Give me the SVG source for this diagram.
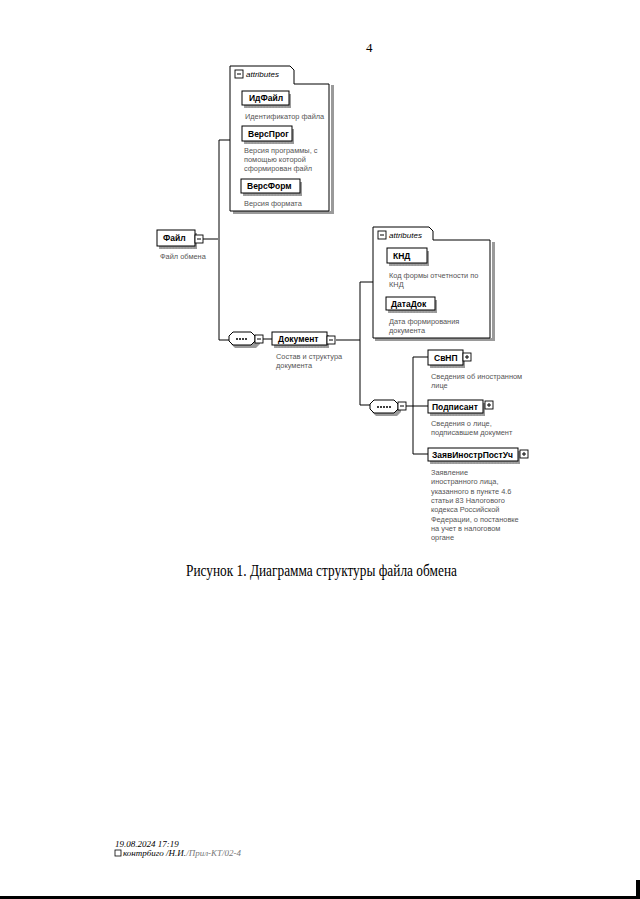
<svg xmlns="http://www.w3.org/2000/svg" width="640" height="899" viewBox="0 0 640 899">
<defs>
<style>
.bg{fill:#ffffff}
.box{fill:#fff;stroke:#000;stroke-width:1}
.sh{fill:#9a9a9a}
.lbl{font-family:"Liberation Sans",Arial,sans-serif;font-size:8.5px;font-weight:bold;fill:#000}
.dsc{font-family:"Liberation Sans",Arial,sans-serif;font-size:7.4px;fill:#555}
.att{font-family:"Liberation Sans",Arial,sans-serif;font-size:8px;font-style:italic;fill:#000}
.ln{fill:none;stroke:#000;stroke-width:1}
.ic{fill:#fff;stroke:#000;stroke-width:0.9}
.dots{stroke:#aaa;stroke-width:1;stroke-dasharray:1.5 1.5}
.cap{font-family:"Liberation Serif","Times New Roman",serif;fill:#000}
</style>
</defs>
<rect class="bg" x="0" y="0" width="640" height="899"/>
<text class="cap" x="366" y="52" font-size="13">4</text>

<g id="connectors">
<path class="ln" d="M203,239 H218 M219,140 V340 M219,140 H230 M219,340 H229"/>
<path class="ln" d="M263,339 H272 M336,340 H360 M360,282 V405 M360,282 H373 M360,405 H370"/>
<path class="ln" d="M406,406 H428 M413,357 V454 M413,357 H428 M413,454 H428"/>
</g>

<g id="attributes1">
<path class="sh" d="M331,85 h3 v129 h-101 v-3 h98 z"/>
<path class="box" d="M230,211 V66 H290 L294,70 V84 H329 V211 Z"/>
<rect class="ic" x="235" y="70" width="8" height="8"/>
<path class="ln" d="M237,74 H241"/>
<text class="att" x="246" y="77">attributes</text>
</g>

<g id="idfile">
<rect class="sh" x="244" y="94" width="47" height="14"/>
<rect class="box" x="242" y="91" width="47" height="14"/>
<line class="dots" x1="244" y1="107" x2="289" y2="107"/>
<text class="lbl" x="249" y="101">ИдФайл</text>
<text class="dsc" x="245" y="119">Идентификатор файла</text>
</g>

<g id="versprog">
<rect class="sh" x="244" y="129" width="50" height="15"/>
<rect class="box" x="242" y="126" width="50" height="15"/>
<line class="dots" x1="244" y1="143" x2="292" y2="143"/>
<text class="lbl" x="248" y="137">ВерсПрог</text>
<text class="dsc" x="244" y="153">Версия программы, с</text>
<text class="dsc" x="244" y="162">помощью которой</text>
<text class="dsc" x="244" y="171">сформирован файл</text>
</g>

<g id="versform">
<rect class="sh" x="243" y="182" width="59" height="14"/>
<rect class="box" x="241" y="179" width="59" height="14"/>
<line class="dots" x1="243" y1="195" x2="300" y2="195"/>
<text class="lbl" x="247" y="189">ВерсФорм</text>
<text class="dsc" x="244" y="206">Версия формата</text>
</g>

<g id="file">
<rect class="sh" x="159" y="233" width="38" height="16"/>
<rect class="box" x="157" y="230" width="38" height="16"/>
<line class="dots" x1="159" y1="248" x2="195" y2="248"/>
<text class="lbl" x="163" y="241">Файл</text>
<rect class="ic" x="195" y="235" width="8" height="8"/>
<path class="ln" d="M197,239 H201"/>
<text class="dsc" x="160" y="259">Файл обмена</text>
</g>

<g id="seq1">
<path class="sh" d="M235,335 H256 L260,339 V344 L256,348 H235 L231,344 V339 Z"/>
<path class="box" d="M233,332 H251 L255,336 V341 L251,345 H233 L229,341 V336 Z"/>
<path d="M236,339 H248" stroke="#000" stroke-width="1.6" stroke-dasharray="2 1"/>
<rect class="ic" x="255" y="335" width="8" height="8"/>
<path class="ln" d="M257,339 H261"/>
</g>

<g id="document">
<rect class="sh" x="274" y="335" width="55" height="13"/>
<rect class="box" x="272" y="332" width="55" height="13"/>
<line class="dots" x1="274" y1="347" x2="327" y2="347"/>
<text class="lbl" x="278" y="342">Документ</text>
<rect class="ic" x="327" y="336" width="8" height="8"/>
<path class="ln" d="M329,340 H333"/>
<text class="dsc" x="276" y="359">Состав и структура</text>
<text class="dsc" x="276" y="368">документа</text>
</g>

<g id="attributes2">
<path class="sh" d="M492,242 h3 v99 h-120 v-3 h117 z"/>
<path class="box" d="M373,338 V227 H429 L433,231 V240 H490 V338 Z"/>
<rect class="ic" x="378" y="231" width="8" height="8"/>
<path class="ln" d="M380,235 H384"/>
<text class="att" x="389" y="238">attributes</text>
</g>

<g id="knd">
<rect class="sh" x="389" y="251" width="40" height="15"/>
<rect class="box" x="387" y="248" width="40" height="15"/>
<line class="dots" x1="389" y1="265" x2="427" y2="265"/>
<text class="lbl" x="393" y="259">КНД</text>
<text class="dsc" x="389" y="278">Код формы отчетности по</text>
<text class="dsc" x="389" y="287">КНД</text>
</g>

<g id="datadok">
<rect class="sh" x="388" y="300" width="49" height="13"/>
<rect class="box" x="386" y="297" width="49" height="13"/>
<line class="dots" x1="388" y1="312" x2="435" y2="312"/>
<text class="lbl" x="391" y="307">ДатаДок</text>
<text class="dsc" x="389" y="324">Дата формирования</text>
<text class="dsc" x="389" y="333">документа</text>
</g>

<g id="seq2">
<path class="sh" d="M376,403 H397 L401,407 V412 L397,416 H376 L372,412 V407 Z"/>
<path class="box" d="M374,400 H394 L398,404 V409 L394,413 H374 L370,409 V404 Z"/>
<path d="M377,407 H391" stroke="#000" stroke-width="1.6" stroke-dasharray="2 1"/>
<rect class="ic" x="398" y="402" width="8" height="8"/>
<path class="ln" d="M400,406 H404"/>
</g>

<g id="svnp">
<rect class="sh" x="430" y="353" width="35" height="15"/>
<rect class="box" x="428" y="350" width="35" height="15"/>
<line class="dots" x1="430" y1="367" x2="463" y2="367"/>
<text class="lbl" x="434" y="361">СвНП</text>
<rect class="ic" x="463" y="353" width="8" height="8"/>
<path class="ln" d="M465,357 H469 M467,355 V359"/>
<text class="dsc" x="431" y="379">Сведения об иностранном</text>
<text class="dsc" x="431" y="388">лице</text>
</g>

<g id="podpisant">
<rect class="sh" x="430" y="403" width="55" height="13"/>
<rect class="box" x="428" y="400" width="55" height="13"/>
<line class="dots" x1="430" y1="415" x2="483" y2="415"/>
<text class="lbl" x="432" y="410">Подписант</text>
<rect class="ic" x="485" y="401" width="8" height="8"/>
<path class="ln" d="M487,405 H491 M489,403 V407"/>
<text class="dsc" x="431" y="426">Сведения о лице,</text>
<text class="dsc" x="431" y="435">подписавшем документ</text>
</g>

<g id="zayav">
<rect class="sh" x="430" y="451" width="90" height="13"/>
<rect class="box" x="428" y="448" width="90" height="13"/>
<line class="dots" x1="430" y1="463" x2="518" y2="463"/>
<text class="lbl" x="432" y="458">ЗаявИнострПостУч</text>
<rect class="ic" x="520" y="450" width="8" height="8"/>
<path class="ln" d="M522,454 H526 M524,452 V456"/>
<text class="dsc" x="431" y="475">Заявление</text>
<text class="dsc" x="431" y="484">иностранного лица,</text>
<text class="dsc" x="431" y="494">указанного в пункте 4.6</text>
<text class="dsc" x="431" y="503">статьи 83 Налогового</text>
<text class="dsc" x="431" y="512">кодекса Российской</text>
<text class="dsc" x="431" y="522">Федерации, о постановке</text>
<text class="dsc" x="431" y="531">на учет в налоговом</text>
<text class="dsc" x="431" y="540">органе</text>
</g>

<text class="cap" x="186" y="576" font-size="16" textLength="271" lengthAdjust="spacingAndGlyphs">Рисунок 1. Диаграмма структуры файла обмена</text>

<text class="cap" x="115" y="847" font-size="9" font-style="italic">19.08.2024 17:19</text>
<rect x="115" y="850" width="6" height="6" fill="none" stroke="#000" stroke-width="0.8"/>
<text class="cap" x="123" y="856" font-size="9" font-style="italic">контрбиго /Н.И.<tspan fill="#777">/Прил-КТ/02-4</tspan></text>

<rect x="0" y="896" width="640" height="3" fill="#000"/>
<rect x="636" y="880" width="4" height="19" fill="#000"/>
</svg>
